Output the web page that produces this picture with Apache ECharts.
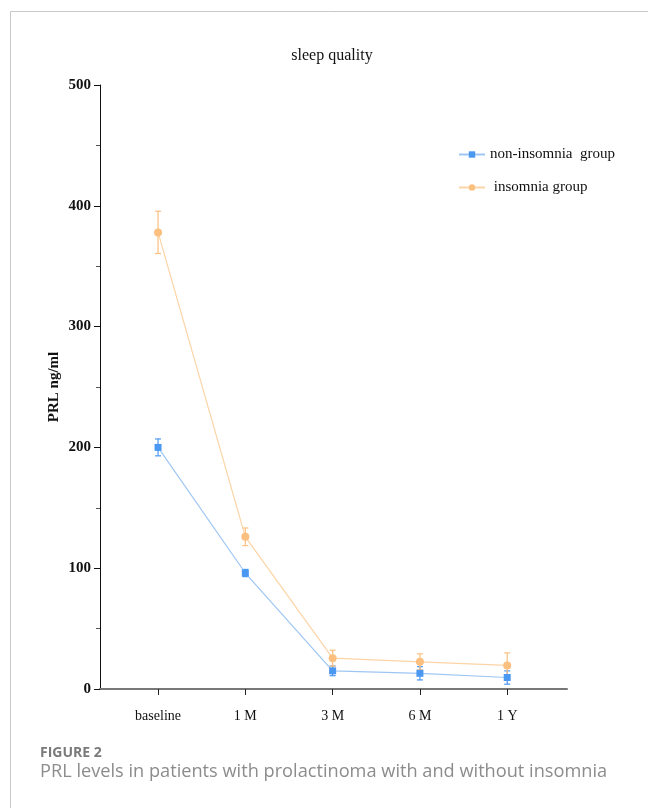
<!DOCTYPE html>
<html>
<head>
<meta charset="utf-8">
<script src="https://cdn.jsdelivr.net/npm/echarts@6/dist/echarts.min.js"></script>
<style>
  html, body { margin: 0; padding: 0; background: #fff; }
  #chart_main { width: 648px; height: 808px; }
</style>
</head>
<body>
<div id="chart_main"></div>
<script>
// time points along the x axis
var categories = ['baseline', '1 M', '3 M', '6 M', '1 Y']
// mean PRL (ng/ml) and error (SEM)
var nonInsomnia = [200, 96, 15, 13, 9.5]
var nonInsomniaErr = [7, 3, 4, 5.5, 5.5]
var insomnia = [378, 126, 25.5, 22.5, 19.5]
var insomniaErr = [17.5, 7.3, 6.6, 6.6, 10.4]
var yTicks = [0, 100, 200, 300, 400, 500]

var blue = '#4a98f2'
var blueLine = '#9ec6f4'
var orange = '#fbbf80'
var orangeLine = '#fcd4a6'
var serif = '"Liberation Serif", "Times New Roman", serif'

function points (vals) {
  return vals.map(function (v, i) { return [i, v] })
}
function errData (vals, errs) {
  return vals.map(function (v, i) { return [i, v - errs[i], v + errs[i]] })
}
function errorBars (color) {
  return function (params, api) {
    var x = api.value(0)
    var lo = api.coord([x, api.value(1)])
    var hi = api.coord([x, api.value(2)])
    var w = 3
    var style = { stroke: color, lineWidth: 1.2 }
    return {
      type: 'group',
      children: [
        { type: 'line', shape: { x1: lo[0], y1: lo[1], x2: hi[0], y2: hi[1] }, style: style },
        { type: 'line', shape: { x1: lo[0] - w, y1: lo[1], x2: lo[0] + w, y2: lo[1] }, style: style },
        { type: 'line', shape: { x1: hi[0] - w, y1: hi[1], x2: hi[0] + w, y2: hi[1] }, style: style }
      ]
    }
  }
}

const chartMain = echarts.init(document.getElementById('chart_main'))
chartMain.setOption({
  animation: false,
  backgroundColor: '#fff',
  title: {
    text: 'sleep quality',
    left: 327,
    textAlign: 'center',
    top: 43,
    textStyle: { fontFamily: serif, fontSize: 16, fontWeight: 'normal', color: '#111' }
  },
  graphic: [
    { type: 'line', shape: { x1: 10.5, y1: 11.5, x2: 648, y2: 11.5 }, style: { stroke: '#c8c8c8', lineWidth: 1 } },
    { type: 'line', shape: { x1: 10.5, y1: 11.5, x2: 10.5, y2: 808 }, style: { stroke: '#c8c8c8', lineWidth: 1 } },
    {
      type: 'text', left: 40, top: 746,
      style: { text: 'FIGURE 2', fontFamily: '"Open Sans", sans-serif', fontWeight: 'bold', fontSize: 14, fill: '#7a7a7a' }
    },
    {
      type: 'text', left: 40, top: 763,
      style: { text: 'PRL levels in patients with prolactinoma with and without insomnia', fontFamily: '"Open Sans", sans-serif', fontSize: 18.2, fill: '#8c8c8c' }
    }
  ],
  legend: {
    orient: 'vertical',
    left: 453,
    top: 142,
    itemGap: 18,
    itemWidth: 26,
    itemHeight: 8,
    textStyle: { fontFamily: serif, fontSize: 15, color: '#111' },
    data: [
      { name: 'non-insomnia  group' },
      { name: ' insomnia group' }
    ]
  },
  grid: { left: 100, right: 81, top: 85, bottom: 119 },
  xAxis: {
    type: 'value',
    min: -0.665,
    max: 4.685,
    splitLine: { show: false },
    axisLine: { onZero: false, lineStyle: { color: '#777', width: 2 } },
    axisTick: { customValues: [0, 1, 2, 3, 4], length: 6, lineStyle: { color: '#222', width: 1 } },
    axisLabel: {
      customValues: [0, 1, 2, 3, 4],
      formatter: function (v) { return categories[Math.round(v)] },
      margin: 20,
      fontFamily: serif,
      fontSize: 14,
      color: '#111'
    }
  },
  yAxis: {
    type: 'value',
    min: yTicks[0],
    max: yTicks[yTicks.length - 1],
    interval: 100,
    name: 'PRL ng/ml',
    nameLocation: 'middle',
    nameRotate: 90,
    nameGap: 38,
    nameMoveOverlap: false,
    nameTextStyle: { fontFamily: serif, fontSize: 15, fontWeight: 'bold', color: '#111' },
    splitLine: { show: false },
    axisLine: { show: true, onZero: false, lineStyle: { color: '#111', width: 1 } },
    axisTick: { show: true, length: 6, lineStyle: { color: '#111' } },
    minorTick: { show: true, splitNumber: 2, length: 4, lineStyle: { color: '#555' } },
    axisLabel: { margin: 9, fontFamily: serif, fontSize: 15, fontWeight: 'bold', color: '#111' }
  },
  series: [
    {
      name: 'non-insomnia  group',
      type: 'line',
      data: points(nonInsomnia),
      symbol: 'rect',
      symbolSize: 7,
      itemStyle: { color: blue },
      lineStyle: { color: blueLine, width: 1.2 },
      z: 3
    },
    {
      name: ' insomnia group',
      type: 'line',
      data: points(insomnia),
      symbol: 'circle',
      symbolSize: 8,
      itemStyle: { color: orange },
      lineStyle: { color: orangeLine, width: 1.2 },
      z: 3
    },
    {
      type: 'custom',
      renderItem: errorBars(blue),
      data: errData(nonInsomnia, nonInsomniaErr),
      encode: { x: 0, y: [1, 2] },
      z: 2
    },
    {
      type: 'custom',
      renderItem: errorBars(orange),
      data: errData(insomnia, insomniaErr),
      encode: { x: 0, y: [1, 2] },
      z: 2
    }
  ]
})
</script>
</body>
</html>
